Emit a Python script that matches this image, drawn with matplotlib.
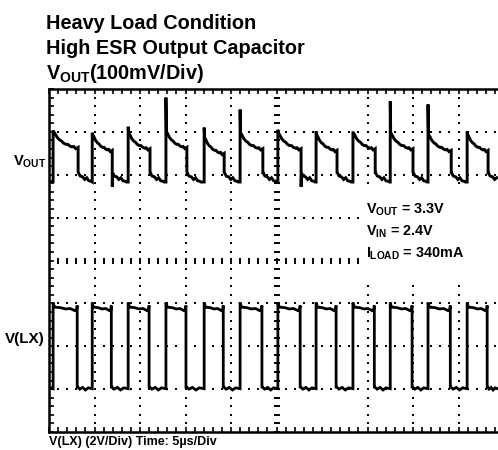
"""Scope capture: boost converter VOUT ripple and LX switching node, heavy load."""

import matplotlib

matplotlib.use("Agg")
import matplotlib.pyplot as plt
import numpy as np
from matplotlib.patches import Rectangle

W, H = 498, 450

# time axis in divisions (5us/div), voltage axis in divisions
rise_t = [0.09, 0.95, 1.74, 2.57, 3.41, 4.20, 5.03, 5.87, 6.68, 7.50, 8.33, 9.19]
fall_t = [0.64, 1.39, 2.22, 3.03, 3.85, 4.70, 5.54, 6.33, 7.17, 8.00, 8.84, 9.65]

# VOUT trace (100mV/div), per switching cycle
vout_top = [3.01, 2.94, 2.98, 3.01, 2.87, 2.98, 2.98, 2.94, 2.98, 2.98, 2.94, 2.94]
vout_spike = [3.01, 2.98, 3.12, 3.80, 3.10, 3.52, 3.05, 3.01, 2.98, 3.71, 3.64, 3.01]
vout_after_fall = [2.07, 1.72, 2.05, 2.07, 2.05, 2.02, 1.72, 2.05, 2.02, 2.05, 2.02, 2.02]
vout_start = 1.84

# shape of the ramp while LX is high: (fraction of high time, offset from top)
ramp_frac = [0.00, 0.06, 0.15, 0.25, 0.32, 0.40, 0.50, 0.58, 0.66, 0.75, 0.82, 0.90, 1.00]
ramp_off = [0.00, -0.05, -0.14, -0.20, -0.22, -0.27, -0.30, -0.30, -0.34, -0.36, -0.35, -0.40, -0.37]
# shape while LX is low: (fraction of low time, level)
low_frac = [0.00, 0.12, 0.30, 0.45, 0.60, 0.75, 0.90, 1.00]
low_lvl = [2.04, 1.97, 1.95, 1.89, 1.93, 1.86, 1.85, 1.83]

# LX trace (2V/div)
lx_edge = -0.98
lx_high_frac = [0.00, 0.08, 0.30, 0.50, 0.70, 0.90, 0.97, 1.00]
lx_high_lvl = [-1.04, -1.09, -1.10, -1.13, -1.12, -1.17, -1.15, -1.05]
lx_low_frac = [0.00, 0.15, 0.35, 0.55, 0.75, 1.00]
lx_low_lvl = [-2.95, -3.00, -2.96, -3.02, -2.97, -2.99]

X_END = (W - 49) / 45.5


def build_vout():
    t, v = [0.0], [vout_start]
    for i, r in enumerate(rise_t):
        f = fall_t[i]
        nxt = rise_t[i + 1] if i + 1 < len(rise_t) else X_END
        t += [r, r, r + 0.01]
        v += [v[-1], vout_spike[i], vout_top[i]]
        for fr, off in zip(ramp_frac, ramp_off):
            t.append(r + 0.01 + fr * (f - r - 0.01))
            v.append(vout_top[i] + off)
        t.append(f)
        v.append(vout_after_fall[i])
        span = 0.30
        for fr, lv in zip(low_frac, low_lvl):
            tt = f + 0.01 + fr * span
            if tt > nxt:
                break
            t.append(tt)
            v.append(lv)
    return t, v


def build_lx():
    t, v = [0.0, rise_t[0]], [lx_low_lvl[0], lx_low_lvl[-1]]
    for i, r in enumerate(rise_t):
        f = fall_t[i] - 0.02
        nxt = rise_t[i + 1] if i + 1 < len(rise_t) else X_END
        t += [r, r]
        v += [v[-1], lx_edge]
        for fr, lv in zip(lx_high_frac, lx_high_lvl):
            t.append(r + 0.01 + fr * (f - r - 0.01))
            v.append(lv)
        t.append(f)
        v.append(lx_low_lvl[0])
        for fr, lv in zip(lx_low_frac, lx_low_lvl):
            tt = f + 0.01 + fr * (nxt - f - 0.02)
            t.append(tt)
            v.append(lv)
    return t, v


plt.rcParams["mathtext.fontset"] = "custom"
plt.rcParams["mathtext.rm"] = "Liberation Sans:bold"
plt.rcParams["mathtext.it"] = "Liberation Sans:bold"
plt.rcParams["mathtext.bf"] = "Liberation Sans:bold"
plt.rcParams["font.family"] = "Liberation Sans"

fig = plt.figure(figsize=(W / 100, H / 100), dpi=100)
ax = fig.add_axes([49 / W, 1 - 432 / H, (W - 49) / W, (432 - 89) / H])
ax.set_xlim(0, X_END)
ax.set_ylim(-4, 4)
ax.set_facecolor("white")
for side in ["left", "top", "bottom"]:
    ax.spines[side].set_linewidth(1.8)
ax.spines["right"].set_visible(False)
ax.set_xticks(np.arange(0, 10, 1))
ax.set_xticks(np.arange(0, 10, 0.2), minor=True)
ax.set_yticks(np.arange(-4, 5, 1))
ax.set_yticks(np.arange(-4, 4.01, 0.2), minor=True)
ax.tick_params(which="both", direction="in", top=True, bottom=True, left=True,
               right=False, length=3.5, width=1.2, labelbottom=False, labelleft=False)

# dotted graticule
fine_y = np.arange(-4, 4.01, 0.2)
fine_x = np.arange(0, X_END, 0.2)
for gx in [1, 2, 3, 4, 7, 8, 9]:
    ax.scatter(np.full(fine_y.size, gx), fine_y, s=2.5, marker="s", color="black", lw=0, zorder=1)
for gy in [-3, -2, -1, 1, 2, 3]:
    ax.scatter(fine_x, np.full(fine_x.size, gy), s=2.5, marker="s", color="black", lw=0, zorder=1)
# centre cross with minor marks
ax.scatter(fine_x, np.zeros(fine_x.size), s=14, marker="|", color="black", lw=1.4, zorder=1)
ax.scatter(np.full(fine_y.size, 5), fine_y, s=18, marker="_", color="black", lw=1.4, zorder=1)

# white box behind the operating conditions
ax.add_patch(Rectangle(((362 - 49) / 45.5, (261 - 280) / 42.9), 3.2, (280 - 190) / 42.9,
                       facecolor="white", edgecolor="none", zorder=2))

tv, vv = build_vout()
ax.plot(tv, vv, color="black", lw=2.1, zorder=3, solid_joinstyle="miter")
tl, vl = build_lx()
ax.plot(tl, vl, color="black", lw=2.0, zorder=3, solid_joinstyle="miter")


def ftext(px, py, s, size, **kw):
    fig.text(px / W, 1 - py / H, s, fontsize=size, fontweight="bold", va="baseline", **kw)


ftext(46, 29, "Heavy Load Condition", 14.3)
ftext(46, 54, "High ESR Output Capacitor", 14.3)
ftext(46, 79, "$V_{OUT}$(100mV/Div)", 14.3)
ftext(13, 166, "$V_{OUT}$", 10.5)
ftext(5, 343, "V(LX)", 11)
ftext(49, 445, "V(LX) (2V/Div) Time: 5\u00b5s/Div", 9)
ftext(366, 214, "$V_{OUT}$ = 3.3V", 10.4)
ftext(366, 236, "$V_{IN}$ = 2.4V", 10.4)
ftext(366, 258, "$I_{LOAD}$ = 340mA", 10.4)

fig.savefig("out.png", dpi=100)
